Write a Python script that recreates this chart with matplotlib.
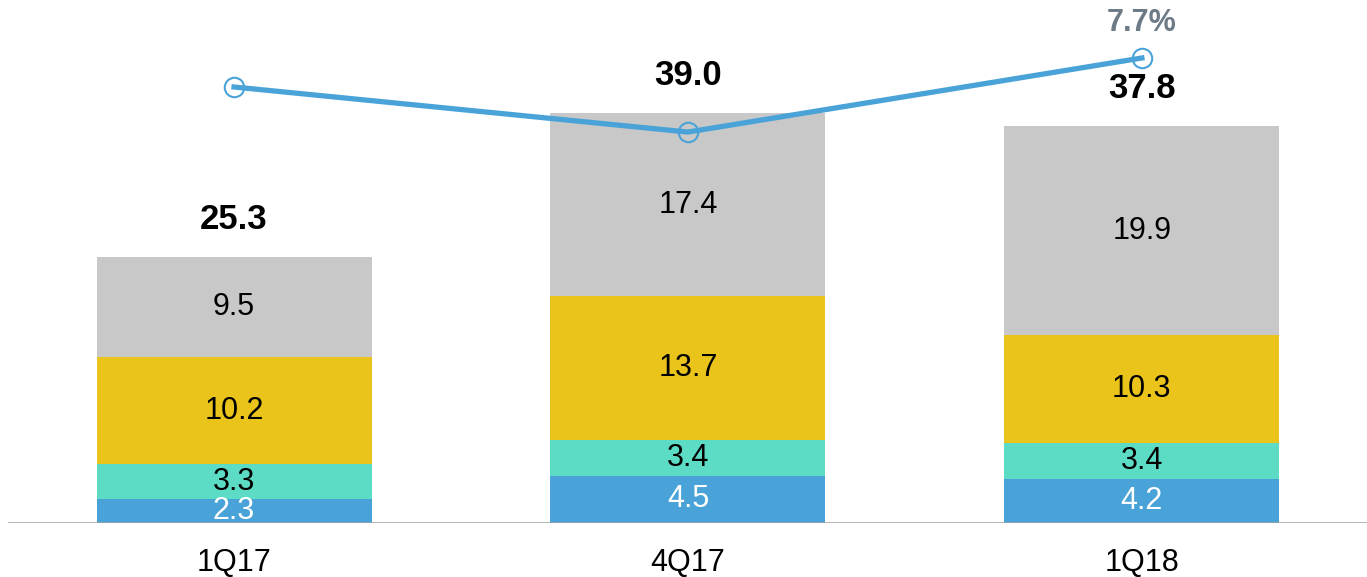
import matplotlib.pyplot as plt
import numpy as np

plt.rcParams['font.family'] = ['Liberation Sans', 'DejaVu Sans']

quarters = ['1Q17', '4Q17', '1Q18']
seg_blue = [2.3, 4.5, 4.2]
seg_teal = [3.3, 3.4, 3.4]
seg_yellow = [10.2, 13.7, 10.3]
seg_gray = [9.5, 17.4, 19.9]
totals = [25.3, 39.0, 37.8]
margin = [7.23, 6.5, 7.7]
margin_labels = ['', '', '7.7%']

colors = ['#4aa3d8', '#5cdcc4', '#eac41a', '#c8c8c8']
text_colors = ['white', 'black', 'black', 'black']

W, H = 1367, 577
fig = plt.figure(figsize=(W / 100, H / 100), dpi=100)
ax = fig.add_axes([8 / W, 54 / H, 1359 / W, 523 / H])

x = np.arange(len(quarters))
bottom = np.zeros(len(quarters))
for vals, c, tc in zip([seg_blue, seg_teal, seg_yellow, seg_gray], colors, text_colors):
    vals = np.array(vals)
    ax.bar(x, vals, bottom=bottom, width=0.606, color=c, zorder=2)
    for xi, b, v in zip(x, bottom, vals):
        ax.text(xi, b + v / 2, f'{v:.1f}', ha='center', va='center',
                fontsize=22, color=tc, zorder=3)
    bottom += vals

for xi, t in zip(x, totals):
    ax.text(xi, t + 3.6, f'{t:.1f}', ha='center', va='center',
            fontsize=25, fontweight='bold', color='black', zorder=3)

ax.set_xlim(-0.498, 2.496)
ax.set_ylim(0, 49.8)
ax.axhline(0, color='#a0a0a0', lw=1.8, zorder=4)
for s in ax.spines.values():
    s.set_visible(False)
ax.set_yticks([])
ax.set_xticks(x)
ax.set_xticklabels(quarters, fontsize=22)
ax.tick_params(axis='x', length=0, pad=18)

# margin line on its own scale
ax2 = ax.twinx()
ax2.set_ylim(0.164, 8.64)
for s in ax2.spines.values():
    s.set_visible(False)
ax2.set_yticks([])
ax2.plot(x, margin, color='#4aa3d8', lw=3.8, marker='o', markersize=14,
         markerfacecolor='none', markeredgewidth=1.5, zorder=5)
for xi, m, lab in zip(x, margin, margin_labels):
    if lab:
        ax2.text(xi, m + 0.57, lab, ha='center', va='center', fontsize=22,
                 fontweight='bold', color='#6d7b87')

fig.savefig('out.png', dpi=100)
